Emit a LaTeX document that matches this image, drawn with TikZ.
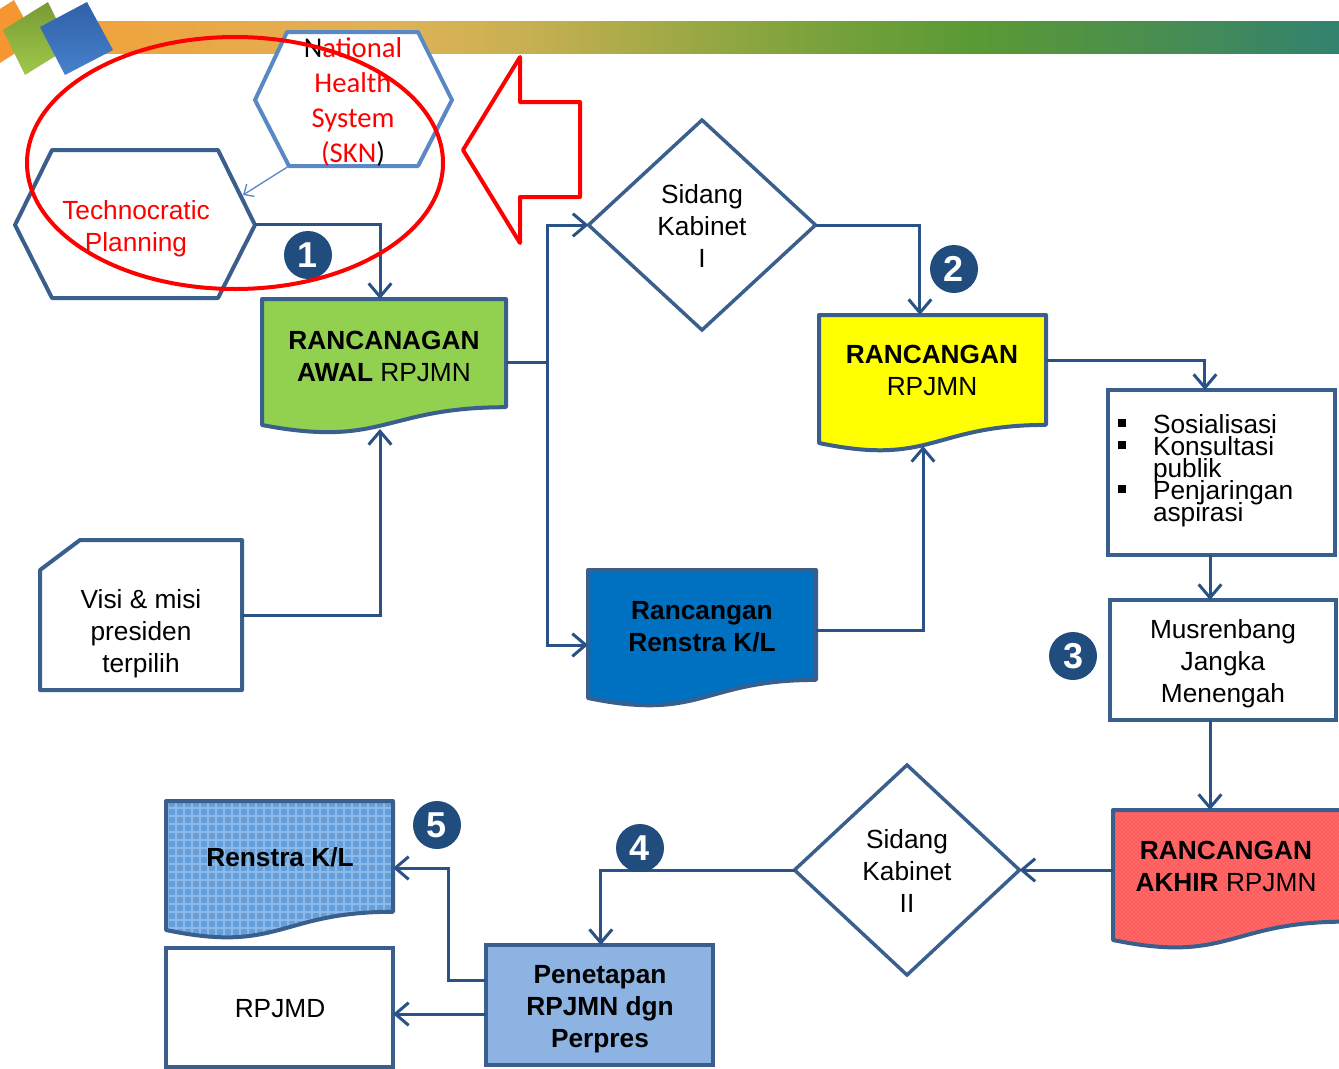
\documentclass[tikz,border=0pt]{standalone}
\usepackage{fontspec}
\setmainfont{Liberation Sans}
\newfontfamily\calfont{Carlito}
\usetikzlibrary{arrows.meta,calc,shapes.geometric,patterns}

\definecolor{boxline}{HTML}{3A5F8D}
\definecolor{wire}{HTML}{2A5286}
\definecolor{badgeblue}{HTML}{214C7E}
\definecolor{hexlight}{HTML}{5A88C4}
\definecolor{docgreen}{HTML}{92D050}
\definecolor{docyellow}{HTML}{FFFF00}
\definecolor{docblue}{HTML}{0070C0}
\definecolor{docred}{HTML}{FF5A5A}
\definecolor{docredlight}{HTML}{FFA0A0}
\definecolor{docsky}{HTML}{5E9BD8}
\definecolor{docskygrid}{HTML}{8CB9E8}
\definecolor{docskydots}{HTML}{96C3F0}
\definecolor{penblue}{HTML}{8DB3E2}
% header band stops
\definecolor{bandA}{HTML}{F2A13A}
\definecolor{bandB}{HTML}{DEB257}
\definecolor{bandC}{HTML}{C9B052}
\definecolor{bandD}{HTML}{98A843}
\definecolor{bandE}{HTML}{72A03A}
\definecolor{bandF}{HTML}{5A9A34}
\definecolor{bandG}{HTML}{4D904A}
\definecolor{bandH}{HTML}{32826F}
% corner squares
\definecolor{sqorange}{HTML}{F59632}
\definecolor{sqgreenA}{HTML}{789B34}
\definecolor{sqgreenB}{HTML}{A0C84B}
\definecolor{sqblueA}{HTML}{3060A8}
\definecolor{sqblueB}{HTML}{4682CD}

\tikzset{
  every node/.style={font=\fontsize{19.7}{24}\selectfont, align=center, inner sep=0pt, outer sep=0pt},
  shapebox/.style 2 args={rectangle, minimum width=#1, minimum height=#2},
  plainbox/.style 2 args={rectangle, draw=boxline, line width=3pt, fill=white, minimum width=#1, minimum height=#2},
  docpath/.style={insert path={(#1.north west) -- (#1.north east) -- ($(#1.north east)!0.8587!(#1.south east)$) .. controls ($(#1.north)!0.8587!(#1.south)$) and ($(#1.north)!1.185!(#1.south)$) .. (#1.south west) -- cycle}},
  docline/.style={draw=boxline, line width=3pt, line join=round},
  wireline/.style={draw=wire, line width=2.25pt},
  wirearrow/.style={wireline, -{Straight Barb[length=10pt,width=17pt]}},
  badge/.style={circle, fill=badgeblue, minimum size=36pt, text=white, font=\bfseries\fontsize{27}{27}\selectfont},
  listline/.style={anchor=base west, align=left},
}

\begin{document}
\begin{tikzpicture}[x=0.75pt,y=-0.75pt]
\useasboundingbox (0,0) rectangle (1339,1068);

% header band
\shade[left color=bandA, right color=bandB] (60,21) rectangle (401,53);
\shade[left color=bandB, right color=bandC] (400,21) rectangle (521,53);
\shade[left color=bandC, right color=bandD] (520,21) rectangle (701,53);
\shade[left color=bandD, right color=bandE] (700,21) rectangle (851,53);
\shade[left color=bandE, right color=bandF] (850,21) rectangle (971,53);
\shade[left color=bandF, right color=bandG] (970,21) rectangle (1121,53);
\shade[left color=bandG, right color=bandH] (1120,21) rectangle (1340,53);

% corner squares
\fill[sqorange] (-30,28) -- (14,0) -- (36,40) -- (-8,68) -- cycle;
\shade[top color=sqgreenA, bottom color=sqgreenB] (3,30) -- (48,2) -- (70,47) -- (25,75) -- cycle;
\shade[top color=sqblueA, bottom color=sqblueB] (40,27) -- (87,2) -- (113,50) -- (65,75) -- cycle;

% hexagons
\draw[hexlight, line width=3pt, fill=white, line join=round] (287,32) -- (418,32) -- (452,100) -- (418,166) -- (289,166) -- (255,100) -- cycle;
\node[shapebox={147.75pt}{100.5pt}] (skn) at (353.5,99) {};
\coordinate (skncorner) at (289,166);
\coordinate (tpedge) at (243,195);
\draw[boxline, line width=3pt, fill=white, line join=round] (52,150) -- (218,150) -- (255,225) -- (218,298) -- (52,298) -- (15,225) -- cycle;
\node[shapebox={180pt}{111pt}] (tp) at (135,224) {};

% document-style boxes
\node[shapebox={183pt}{94.5pt}] (green) at (384,362) {};
\path[fill=docgreen, docline, docpath=green];
\node[shapebox={170.25pt}{96pt}] (yellow) at (932.5,379) {};
\path[fill=docyellow, docline, docpath=yellow];
\node[shapebox={171pt}{96pt}] (rrk) at (702,634) {};
\path[fill=docblue, docline, docpath=rrk];
\node[shapebox={174pt}{97.5pt}] (akhir) at (1229,875) {};
\path[fill=docred, docpath=akhir];
\path[pattern=crosshatch dots, pattern color=docredlight, docpath=akhir];
\path[docline, docpath=akhir];
\node[shapebox={170.25pt}{96.75pt}] (ren) at (279.5,865.5) {};
\path[fill=docsky, docpath=ren];
\begin{scope}
  \clip[docpath=ren];
  \draw[docskygrid, line width=0.8pt, step=6pt] (150,790) grid (410,950);
  \path[pattern=crosshatch dots, pattern color=docskydots] (150,790) rectangle (410,950);
\end{scope}
\path[docline, docpath=ren];

% plain boxes
\node[plainbox={170.25pt}{123.75pt}] (sos) at (1221.5,472.5) {};
\node[plainbox={169.5pt}{90pt}] (mus) at (1223,660) {};
\node[plainbox={170.25pt}{90pt}, fill=penblue] (pen) at (599.5,1005) {};
\node[plainbox={170.25pt}{89.25pt}] (rpjmd) at (279.5,1007.5) {};
\node[shapebox={151.5pt}{112.5pt}] (visi) at (141,615) {};
\draw[docline, fill=white] (visi.south west) -- ([yshift=-22.5pt]visi.north west) -- ([xshift=30pt]visi.north west) -- (visi.north east) -- (visi.south east) -- cycle;

% decisions
\node[diamond, draw=boxline, line width=2.6pt, fill=white, minimum width=170.25pt, minimum height=157.5pt] (sk1) at (702,225) {};
\node[diamond, draw=boxline, line width=2.6pt, fill=white, minimum width=168.75pt, minimum height=157.5pt] (sk2) at (907,870) {};

% connectors
\coordinate (split) at (547,362);
\coordinate (greenbottom) at (380,429);
\coordinate (yellowbottom) at (923,446);
\coordinate (bend) at (448,868);
\draw[hexlight, line width=1pt, -{Straight Barb[length=6pt,width=11pt]}] (skncorner) -- (tpedge);
\draw[wirearrow] (tp.east) -| ([xshift=-3pt]green.north);
\draw[wirearrow] (visi.east) -| (greenbottom);
\draw[wireline] (green.east) -- (split);
\draw[wirearrow] (split) |- (sk1.west);
\draw[wirearrow] (split) |- ([yshift=-8.25pt]rrk.west);
\draw[wirearrow] (sk1.east) -| ([xshift=-9.4pt]yellow.north);
\draw[wirearrow] ([yshift=3pt]rrk.east) -| (yellowbottom);
\draw[wirearrow] ([yshift=14.25pt]yellow.east) -| ([xshift=-12.4pt]sos.north);
\draw[wirearrow] (sos.south -| 1210,0) -- (mus.north -| 1210,0);
\draw[wirearrow] (mus.south -| 1210,0) -- (akhir.north -| 1210,0);
\draw[wirearrow] (akhir.west |- sk2.east) -- (sk2.east);
\draw[wirearrow] (sk2.west) -| ([xshift=1pt]pen.north);
\draw[wirearrow] (pen.west |- 0,980) -| (bend) -- (ren.east |- bend);
\draw[wirearrow] (pen.west |- 0,1014) -- (rpjmd.east |- 0,1014);

% texts
\node[text=red] (tptxt) at (136,229) {Technocratic\\Planning};
\node[text=red, font=\calfont\fontsize{21.5}{26.2}\selectfont] (skntxt) at (353,102) {\textcolor{black}{N}ational\\Health\\System\\(SKN\textcolor{black}{)}};
\node (greentxt) at (384,356) {\textbf{RANCANAGAN}\\\textbf{AWAL} RPJMN};
\node (yellowtxt) at (932,370) {\textbf{RANCANGAN}\\RPJMN};
\node (rrktxt) at (702,627) {\textbf{Rancangan}\\\textbf{Renstra K/L}};
\node (akhirtxt) at (1226,866) {\textbf{RANCANGAN}\\\textbf{AKHIR} RPJMN};
\node (rentxt) at (280,857) {\textbf{Renstra K/L}};
\node (mustxt) at (1223,664) {Musrenbang\\Jangka\\Menengah};
\node (pentxt) at (600,1009) {\textbf{Penetapan}\\\textbf{RPJMN dgn}\\\textbf{Perpres}};
\node (rpjmdtxt) at (280,1009) {RPJMD};
\node (visitxt) at (141,634) {Visi \& misi\\presiden\\terpilih};
\node (sk1txt) at (702,226) {Sidang\\Kabinet\\I};
\node (sk2txt) at (907,871) {Sidang\\Kabinet\\II};

% bulleted list
\node[listline] (s1) at (1153,433) {Sosialisasi};
\node[listline] (s2) at (1153,455) {Konsultasi};
\node[listline] (s3) at (1153,477) {publik};
\node[listline] (s4) at (1153,499) {Penjaringan};
\node[listline] (s5) at (1153,521) {aspirasi};
\fill (1118,419) rectangle (1126,427);
\fill (1118,441) rectangle (1126,449);
\fill (1118,485) rectangle (1126,493);

% step numbers
\node[badge] (n1) at (308,255) {1};
\node[badge] (n2) at (954,269) {2};
\node[badge] (n3) at (1073,656) {3};
\node[badge] (n4) at (640,848) {4};
\node[badge] (n5) at (437,825) {5};

% highlight marks
\draw[red, line width=3pt] (235,163) ellipse [x radius=156pt, y radius=94.5pt];
\draw[red, line width=3pt, line join=round] (463,150) -- (520,57) -- (520,102) -- (580,102) -- (580,197) -- (520,197) -- (520,243) -- cycle;
\end{tikzpicture}
\end{document}
